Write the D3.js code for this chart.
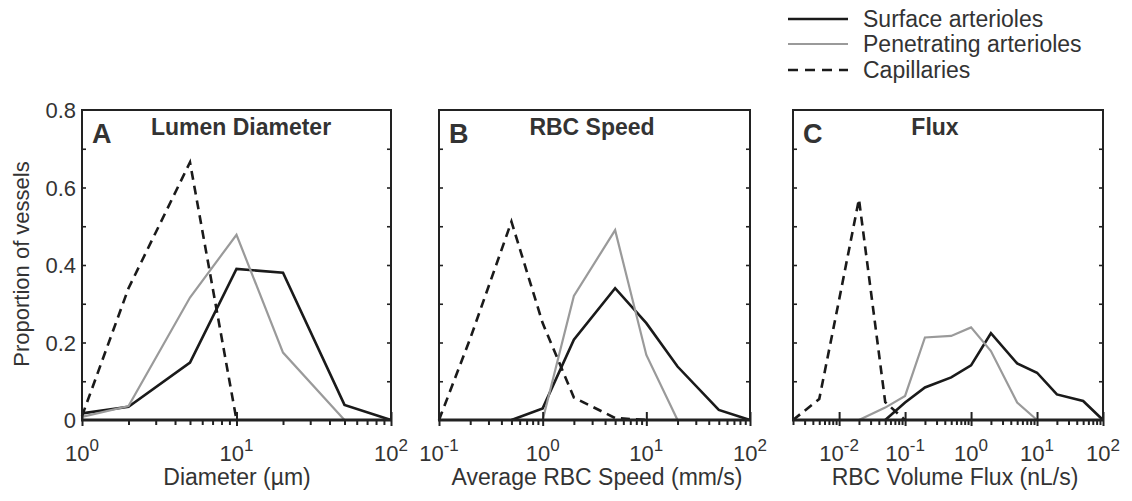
<!DOCTYPE html>
<html><head><meta charset="utf-8">
<script src="https://cdn.jsdelivr.net/npm/d3@7"></script>
<style>
body{margin:0;background:#fff}
text{font-family:"Liberation Sans",Arial,Helvetica,sans-serif;fill:#333}
</style></head>
<body><svg id="c" width="1132" height="501"></svg>
<script>
// ---------- data ----------
const seriesNames = ["Surface arterioles", "Penetrating arterioles", "Capillaries"];

const binsA = [1, 2, 5, 10, 20, 50, 100];
const surfaceA     = [0.017, 0.034, 0.148, 0.390, 0.380, 0.039, 0];
const penetratingA = [0.008, 0.036, 0.316, 0.478, 0.174, 0, null];
const capillaryA   = [0.010, 0.340, 0.665, 0, null, null, null];

const binsB = [0.1, 0.2, 0.5, 1, 2, 5, 10, 20, 50, 100];
const surfaceB     = [null, null, 0, 0.030, 0.207, 0.340, 0.250, 0.138, 0.026, 0];
const penetratingB = [null, null, null, 0, 0.320, 0.490, 0.168, 0, null, null];
const capillaryB   = [0, 0.210, 0.512, 0.250, 0.058, 0.005, 0, null, null, null];

const binsC = [0.002, 0.005, 0.01, 0.02, 0.05, 0.1, 0.2, 0.5, 1, 2, 5, 10, 20, 50, 100];
const surfaceC     = [null, null, null, null, 0, 0.045, 0.084, 0.110, 0.141, 0.224, 0.146, 0.122, 0.066, 0.049, 0];
const penetratingC = [null, null, null, 0, 0.032, 0.062, 0.213, 0.217, 0.239, 0.178, 0.045, 0, null, null, null];
const capillaryC   = [0, 0.054, 0.310, 0.570, 0.046, 0, null, null, null, null, null, null, null, null, null];

const yTicks = [0, 0.2, 0.4, 0.6, 0.8];
const yTickLabels = ["0", "0.2", "0.4", "0.6", "0.8"];
const panelLetters = ["A", "B", "C"];
const panelTitles = ["Lumen Diameter", "RBC Speed", "Flux"];
const xTitles = ["Diameter (\u00b5m)", "Average RBC Speed (mm/s)", "RBC Volume Flux (nL/s)"];
const yTitle = "Proportion of vessels";

// ---------- layout ----------
const panels = [
  {x0: 82,  x1: 391,  dom: [1, 100],     bins: binsA, s: [surfaceA, penetratingA, capillaryA], tx: 241, xt: 237},
  {x0: 439, x1: 750,  dom: [0.1, 100],   bins: binsB, s: [surfaceB, penetratingB, capillaryB], tx: 592, xt: 597},
  {x0: 793, x1: 1103, dom: [0.002, 100], bins: binsC, s: [surfaceC, penetratingC, capillaryC], tx: 935, xt: 955}
];
const Y0 = 110, Y1 = 420;
const styles = [
  {stroke: "#1a1a1a", width: 2.6, dash: null},
  {stroke: "#9a9a9a", width: 2.2, dash: null},
  {stroke: "#1a1a1a", width: 2.6, dash: "9,6"}
];

const svg = d3.select("#c");
const y = d3.scaleLinear().domain([0, 0.8]).range([Y1, Y0]);

panels.forEach((p, i) => {
  const x = d3.scaleLog().domain(p.dom).range([p.x0, p.x1]);
  const g = svg.append("g");

  // data lines
  p.s.forEach((vals, k) => {
    const pts = p.bins.map((b, j) => [b, vals[j]]);
    const line = d3.line().defined(d => d[1] !== null).x(d => x(d[0])).y(d => y(d[1]));
    g.append("path").attr("d", line(pts)).attr("fill", "none")
      .attr("stroke", styles[k].stroke).attr("stroke-width", styles[k].width)
      .attr("stroke-dasharray", styles[k].dash).attr("stroke-linejoin", "miter");
  });

  // frame
  g.append("rect").attr("x", p.x0).attr("y", Y0).attr("width", p.x1 - p.x0).attr("height", Y1 - Y0)
    .attr("fill", "none").attr("stroke", "#222").attr("stroke-width", 2);
  g.append("line").attr("x1", p.x0 - 1).attr("x2", p.x1 + 1).attr("y1", Y1).attr("y2", Y1)
    .attr("stroke", "#222").attr("stroke-width", 3);

  // y ticks (every 0.1), left and right, inward
  const yt = d3.range(1, 8).map(v => v / 10);
  const axL = d3.axisRight(y).tickValues(yt).tickSize(4).tickFormat("");
  const axR = d3.axisLeft(y).tickValues(yt).tickSize(4).tickFormat("");
  const gl = g.append("g").attr("transform", `translate(${p.x0},0)`).call(axL);
  const gr = g.append("g").attr("transform", `translate(${p.x1},0)`).call(axR);
  [gl, gr].forEach(a => { a.select(".domain").remove(); a.selectAll("line").attr("stroke", "#222").attr("stroke-width", 1.6); });

  // x ticks
  const all = x.ticks();
  const majors = all.filter(v => Math.abs(Math.log10(v) - Math.round(Math.log10(v))) < 1e-9);
  const minors = all.filter(v => majors.indexOf(v) < 0);
  const gmin = g.append("g").attr("transform", `translate(0,${Y1})`)
    .call(d3.axisBottom(x).tickValues(minors).tickSize(5).tickFormat(""));
  gmin.select(".domain").remove();
  gmin.selectAll("line").attr("stroke", "#222").attr("stroke-width", 2);
  const gmaj = g.append("g").attr("transform", `translate(0,${Y1 - 8})`)
    .call(d3.axisBottom(x).tickValues(majors).tickSize(14).tickFormat(""));
  gmaj.select(".domain").remove();
  gmaj.selectAll("line").attr("stroke", "#222").attr("stroke-width", 2);

  // x tick labels 10^n
  majors.forEach(v => {
    const e = Math.round(Math.log10(v));
    const t = g.append("text").attr("x", x(v)).attr("y", 461).attr("text-anchor", "middle")
      .attr("font-size", 22);
    t.append("tspan").text("10");
    t.append("tspan").attr("dy", -10).attr("font-size", 17).text(e < 0 ? "-" + (-e) : String(e));
  });

  // x title
  g.append("text").attr("x", p.xt).attr("y", 485).attr("text-anchor", "middle")
    .attr("font-size", 23).text(xTitles[i]);

  // letter + title
  g.append("text").attr("x", p.x0 + 10).attr("y", 143).attr("font-size", 27)
    .attr("font-weight", "bold").text(panelLetters[i]);
  g.append("text").attr("x", p.tx).attr("y", 135).attr("text-anchor", "middle")
    .attr("font-size", 23).attr("font-weight", "bold").text(panelTitles[i]);

  // y labels only on first panel
  if (i === 0) {
    yTicks.forEach((v, j) => {
      g.append("text").attr("x", p.x0 - 6).attr("y", y(v) + 8).attr("text-anchor", "end")
        .attr("font-size", 22).text(yTickLabels[j]);
    });
    g.append("text").attr("transform", `translate(29,264) rotate(-90)`).attr("text-anchor", "middle")
      .attr("font-size", 22).text(yTitle);
  }
});

// legend
const lg = svg.append("g");
const legY = [19, 44, 70];
seriesNames.forEach((n, k) => {
  lg.append("line").attr("x1", 788).attr("x2", 848).attr("y1", legY[k]).attr("y2", legY[k])
    .attr("stroke", styles[k].stroke).attr("stroke-width", styles[k].width)
    .attr("stroke-dasharray", styles[k].dash ? "10,7" : null);
  lg.append("text").attr("x", 863).attr("y", legY[k] + 8).attr("font-size", 23).text(n);
});
</script></body></html>
